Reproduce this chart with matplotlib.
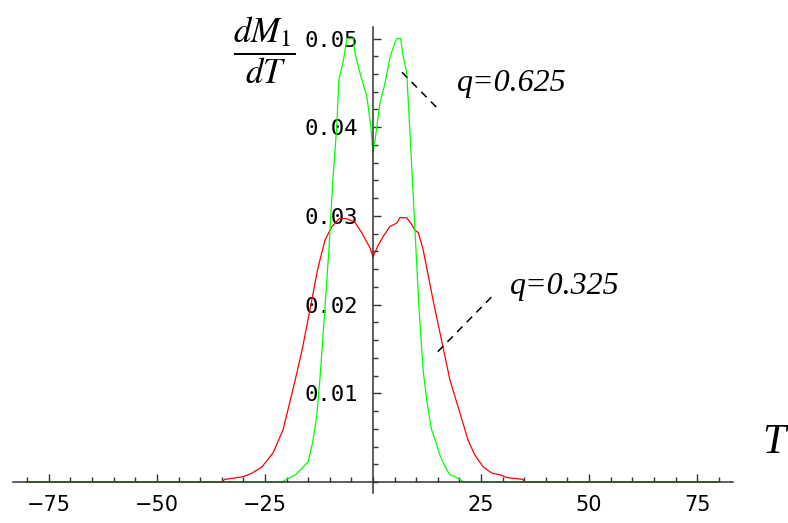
import matplotlib
matplotlib.use("Agg")
import matplotlib.pyplot as plt
from matplotlib.ticker import FixedLocator, MultipleLocator, FuncFormatter

# q = 0.325 (red)
t_red = [-80, -35, -34.3, -30, -28, -25.7, -23.1, -20.8, -18, -16.4, -14.6, -12.8,
         -11.1, -9.5, -7.8, -6.2, -4.2, -2.6, -0.7, 0, 1.2, 2.4, 3.9, 5.5, 6.2, 7.8,
         9, 9.7, 10.5, 11.6, 13.9, 16.2, 17.8, 20.6, 22, 23.6, 25.5, 27.5, 29.4, 31,
         34.7, 35, 80]
v_red = [0, 0, 0.0003, 0.0006, 0.001, 0.0017, 0.0033, 0.0059, 0.0115, 0.0149, 0.0194, 0.024,
         0.0273, 0.0288, 0.0297, 0.0297, 0.0293, 0.0281, 0.0264, 0.0254, 0.0267, 0.0277, 0.0288, 0.0292, 0.0298, 0.0298,
         0.029, 0.0284, 0.0281, 0.0262, 0.0205, 0.0152, 0.0115, 0.007, 0.0047, 0.003, 0.0017, 0.001, 0.0008, 0.0005,
         0.0003, 0, 0]

# q = 0.625 (green)
t_green = [-80, -21, -20, -18, -16.5, -15, -14, -13, -12.3, -11.2, -10.2, -9.3, -8.4, -7.9,
           -6.9, -6, -4.6, -4.2, -3, -1.4, -0.5, 0, 0.5, 1.6, 2.8, 3.9, 5.1, 5.6, 6.4,
           7, 7.8, 8.6, 9.7, 10.6, 11.6, 12.5, 13.5, 14.4, 15.5, 16.7, 17.8, 19, 20.1, 21, 80]
v_green = [0, 0, 0.0003, 0.0008, 0.0015, 0.0023, 0.0044, 0.0075, 0.0115, 0.019, 0.0262, 0.034, 0.040, 0.0453,
           0.0474, 0.050, 0.050, 0.0484, 0.0461, 0.0434, 0.040, 0.0371, 0.0386, 0.0427, 0.045, 0.0478, 0.0496, 0.050, 0.050,
           0.0479, 0.0462, 0.039, 0.0285, 0.020, 0.0126, 0.009, 0.006, 0.0047, 0.003, 0.0017, 0.0008, 0.0006, 0.0003, 0, 0]

x_ticks = [-75, -50, -25, 25, 50, 75]
y_ticks = [0.01, 0.02, 0.03, 0.04, 0.05]

plt.rcParams["mathtext.fontset"] = "stix"

fig = plt.figure(figsize=(7.88, 5.23), dpi=100)
ax = fig.add_axes([13/788, 1 - 493/523, 720/788, 466/523])

ax.plot(t_red, v_red, color="#ff0000", lw=0.9)
ax.plot(t_green, v_green, color="#00ff00", lw=0.9)

ax.set_xlim(-83.3, 83.3)
ax.set_ylim(-0.00124, 0.0513)

for s in ["top", "right"]:
    ax.spines[s].set_visible(False)
ax.spines["left"].set_position(("data", 0))
ax.spines["bottom"].set_position(("data", 0))
for s in ["left", "bottom"]:
    ax.spines[s].set_color("#333333")
    ax.spines[s].set_linewidth(1.1)

ax.xaxis.set_major_locator(FixedLocator(x_ticks))
ax.xaxis.set_minor_locator(MultipleLocator(5))
ax.yaxis.set_major_locator(FixedLocator(y_ticks))
ax.yaxis.set_minor_locator(MultipleLocator(0.002))
ax.xaxis.set_major_formatter(FuncFormatter(lambda v, p: "%d" % v if v >= 0 else "\u2212%d" % -v))
ax.yaxis.set_major_formatter(FuncFormatter(lambda v, p: "%.2f" % v))

ax.tick_params(axis="both", which="major", direction="in", length=6, width=1,
               color="#333333", labelsize=15)
ax.tick_params(axis="both", which="minor", direction="in", length=3.5, width=1, color="#333333")
ax.tick_params(axis="x", which="major", pad=9)
ax.tick_params(axis="y", which="major", pad=11)
for lab in ax.get_yticklabels():
    lab.set_family("DejaVu Sans Mono")
    lab.set_fontsize(16)

# annotations
ax.plot([6.7, 14.8], [0.0462, 0.0422], color="black", lw=1.1, ls=(0, (5, 4)))
ax.plot([15.0, 27.5], [0.0147, 0.0209], color="black", lw=1.1, ls=(0, (5, 4)))
ax.text(19.4, 0.0449, "q=0.625", fontsize=23, fontstyle="italic",
        family="Liberation Serif", va="center", ha="left")
ax.text(31.7, 0.0220, "q=0.325", fontsize=23, fontstyle="italic",
        family="Liberation Serif", va="center", ha="left")

fig.text(264/788, 1 - 50/523, r"$\dfrac{dM_{1}}{dT}$", fontsize=25, ha="center", va="center")
fig.text(774/788, 1 - 443/523, "T", fontsize=30, fontstyle="italic",
         family="Liberation Serif", ha="center", va="center")

fig.savefig("out.png", dpi=100)
